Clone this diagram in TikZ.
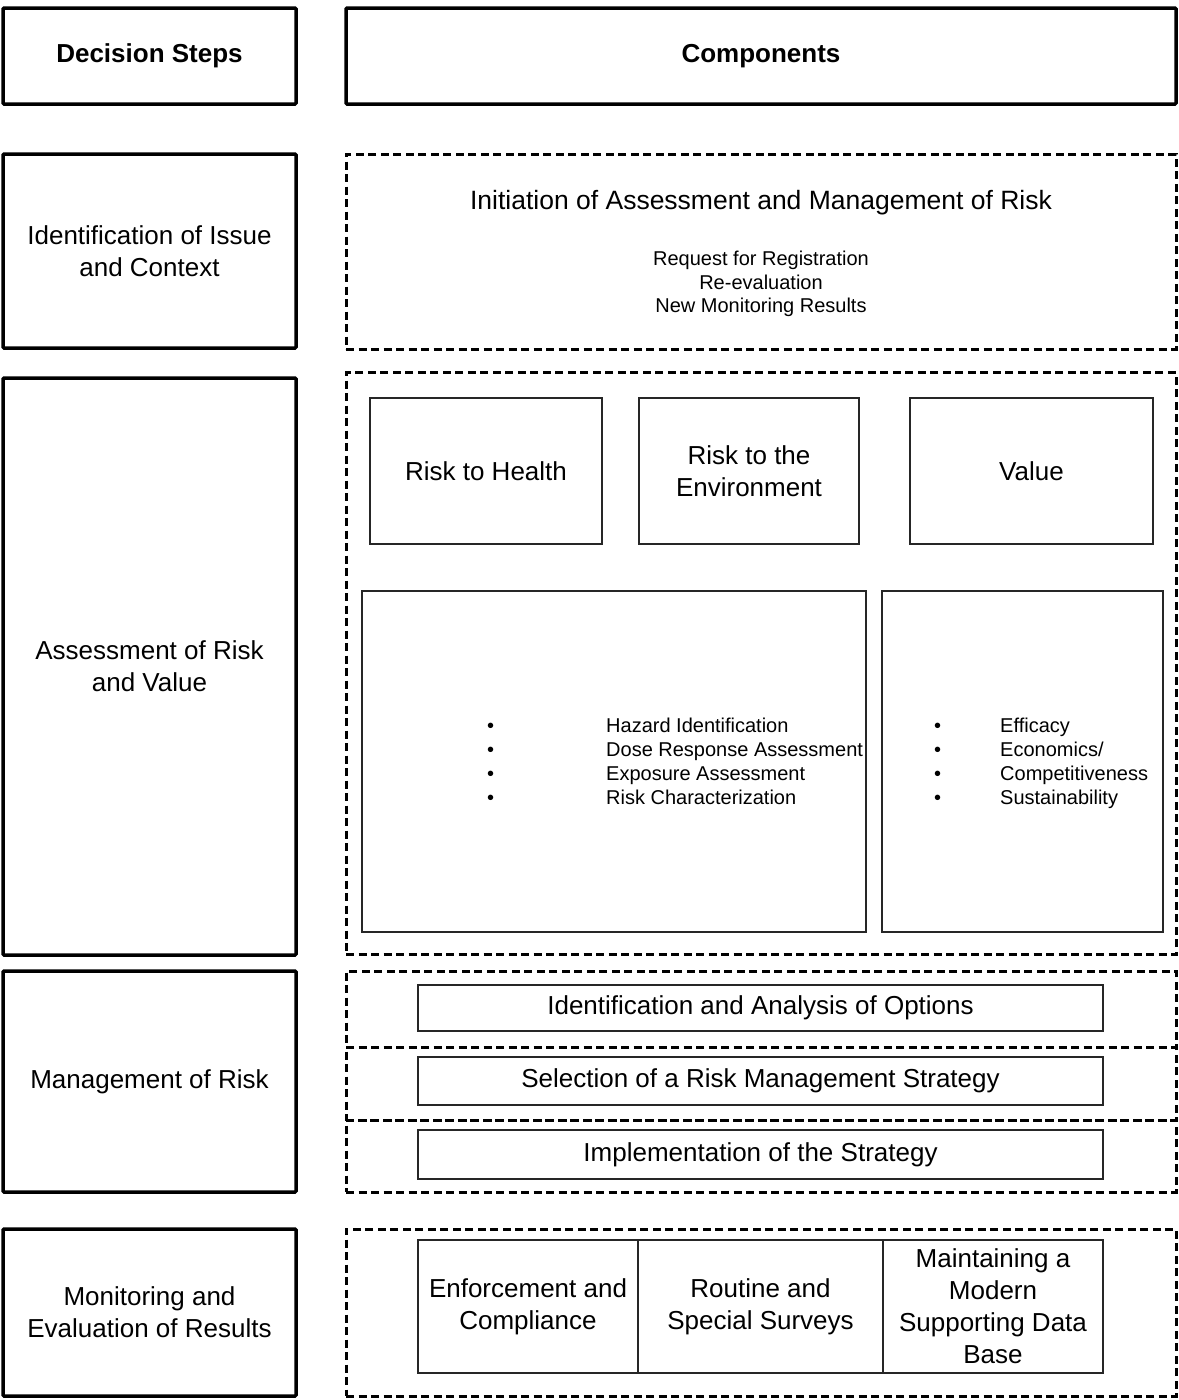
\documentclass[tikz,border=0pt]{standalone}
\usepackage{fontspec}
\setmainfont{Liberation Sans}
\usepackage{tikz}
\usetikzlibrary{positioning}

\begin{document}
\begin{tikzpicture}[
    x=1pt, y=-1pt,
    stepbox/.style={rectangle, draw=black, line width=3.5pt, rounded corners=1pt, align=center, font=\fontsize{26}{32}\selectfont},
    headbox/.style={stepbox, font=\fontsize{26}{32}\selectfont\bfseries},
    groupbox/.style={rectangle, draw=black, line width=3pt, dash pattern=on 8pt off 4.5pt, align=center, font=\fontsize{26}{32}\selectfont},
    itembox/.style={rectangle, draw=black!85, line width=1.3pt, align=center, font=\fontsize{26}{32}\selectfont},
    bullets/.style={anchor=west, inner sep=0pt, font=\fontsize{20}{24}\selectfont}
    ]
    \useasboundingbox (0,0) rectangle (1178,1400);

    % Headings
    \node[headbox, minimum width=293pt, minimum height=96pt] (hdsteps) at (149.5,56) {Decision Steps};
    \node[headbox, minimum width=830pt, minimum height=96pt] (hdcomp) at (761,56) {Components};

    % Decision steps
    \node[stepbox, minimum width=293pt, minimum height=194pt] (issue) at (149.5,251) {Identification of Issue\\and Context};
    \node[stepbox, minimum width=293pt, minimum height=577pt] (assess) at (149.5,666.5) {Assessment of Risk\\and Value};
    \node[stepbox, minimum width=293pt, minimum height=221pt] (manage) at (149.5,1081.5) {Management of Risk};
    \node[stepbox, minimum width=293pt, minimum height=167pt] (monitor) at (149.5,1312.5) {Monitoring and\\Evaluation of Results};

    % Initiation
    \node[groupbox, minimum width=830pt, minimum height=195pt] (init) at (761,251.5) {};
    \node[font=\fontsize{26.5}{32}\selectfont] (inittitle) at (761,202.5) {Initiation of Assessment and Management of Risk};
    \node[align=center, font=\fontsize{20}{23.5}\selectfont] (initlist) at (761,284) {Request for Registration\\Re-evaluation\\New Monitoring Results};

    % Assessment
    \node[groupbox, minimum width=830pt, minimum height=582pt] (assessgrp) at (761,663.5) {};
    \node[itembox, minimum width=232pt, minimum height=146pt] (health) at (486,471) {Risk to Health};
    \node[itembox, minimum width=220pt, minimum height=146pt] (envir) at (749,471) {Risk to the\\Environment};
    \node[itembox, minimum width=243pt, minimum height=146pt] (value) at (1031.5,471) {Value};
    \node[itembox, minimum width=504pt, minimum height=341pt] (riskbox) at (614,761.5) {};
    \node[itembox, minimum width=281pt, minimum height=341pt] (valuebox) at (1022.5,761.5) {};
    \node[bullets] (risklist) at (487,764) {\begin{tabular}{@{}l@{\hspace{112pt}}l@{}}
        \textbullet & Hazard Identification\\
        \textbullet & Dose Response Assessment\\
        \textbullet & Exposure Assessment\\
        \textbullet & Risk Characterization
    \end{tabular}};
    \node[bullets] (valuelist) at (934,764) {\begin{tabular}{@{}l@{\hspace{59pt}}l@{}}
        \textbullet & Efficacy\\
        \textbullet & Economics/\\
        \textbullet & Competitiveness\\
        \textbullet & Sustainability
    \end{tabular}};

    % Management
    \node[groupbox, minimum width=830pt, minimum height=76pt] (optgrp) at (761,1009) {};
    \node[groupbox, minimum width=830pt, minimum height=73pt] (selgrp) at (761,1083.5) {};
    \node[groupbox, minimum width=830pt, minimum height=72pt] (impgrp) at (761,1156) {};
    \node[itembox, minimum width=685pt, minimum height=46pt] (options) at (760.5,1008) {Identification and Analysis of Options};
    \node[itembox, minimum width=685pt, minimum height=48pt] (select) at (760.5,1081) {Selection of a Risk Management Strategy};
    \node[itembox, minimum width=685pt, minimum height=49pt] (implement) at (760.5,1154.5) {Implementation of the Strategy};

    % Monitoring
    \node[groupbox, minimum width=830pt, minimum height=167pt] (mongrp) at (761,1312.5) {};
    \node[itembox, minimum width=220pt, minimum height=133pt] (enforce) at (528,1306.5) {Enforcement and\\Compliance};
    \node[itembox, minimum width=245pt, minimum height=133pt] (survey) at (760.5,1306.5) {Routine and\\Special Surveys};
    \node[itembox, minimum width=220pt, minimum height=133pt] (database) at (993,1306.5) {Maintaining a\\Modern\\Supporting Data\\Base};
\end{tikzpicture}
\end{document}
